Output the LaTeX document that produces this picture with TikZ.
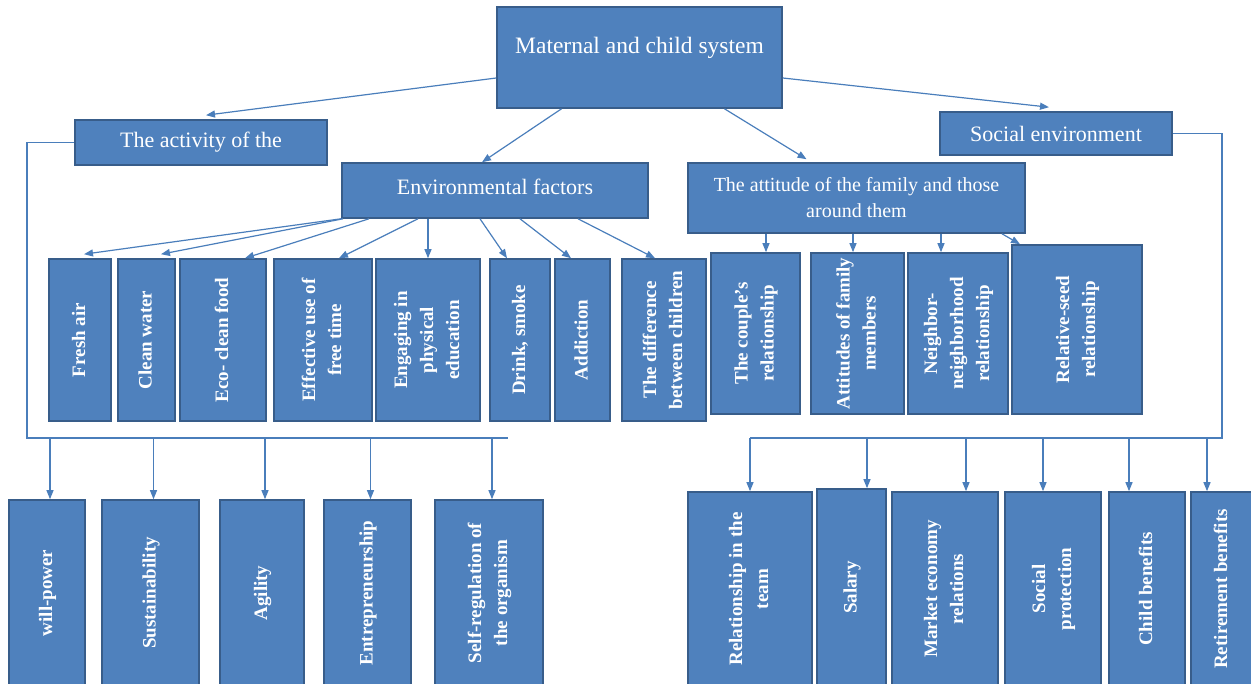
\documentclass[tikz,border=0pt]{standalone}
\usepackage{fontspec}
\setmainfont{Liberation Serif}
\usepackage{graphicx}
\usetikzlibrary{arrows.meta}
\usetikzlibrary{calc}

\definecolor{boxfill}{RGB}{79,129,189}
\definecolor{boxline}{RGB}{56,93,138}
\definecolor{linkcol}{RGB}{74,126,187}

\newcommand{\vtext}[1]{\rotatebox{90}{\begin{tabular}{@{}c@{}}#1\end{tabular}}}

\tikzset{
  box/.style={draw=boxline, fill=boxfill, line width=1.6pt, text=white, inner sep=0pt},
  hbox/.style={box, font=\fontsize{22}{26}\selectfont},
  vbox/.style={box, font=\bfseries\fontsize{19}{26}\selectfont},
  sz/.style 2 args={minimum width=#1pt, minimum height=#2pt},
  link/.style={draw=linkcol, line width=1.2pt},
  arr/.style={link, -{Triangle[length=9pt,width=7pt]}},
}

\begin{document}
\begin{tikzpicture}[x=1pt,y=1pt,yscale=-1,xscale=1]
\useasboundingbox (0,0) rectangle (1251,684);
\clip (0,0) rectangle (1251,684);

%Top boxes
\node[hbox, sz={285}{101}, font=\fontsize{23.5}{28}\selectfont] (main) at (639.5,57.5) {\raisebox{10pt}[\height][\depth]{Maternal and child system}};
\node[hbox, sz={252}{45}] (activity) at (201,142.5) {The activity of the};
\node[hbox, sz={232}{43}] (social) at (1056,133.5) {Social environment};
\node[hbox, sz={306}{55}] (env) at (495,190.5) {\raisebox{4pt}[\height][\depth]{Environmental factors}};
\node[hbox, sz={337}{70}, align=center, font=\fontsize{20}{26}\selectfont] (attitude) at (856.5,198) {The attitude of the family and those\\around them};

%Environmental factors row
\node[vbox, sz={62}{162}] (fresh) at (80,340) {\vtext{Fresh air}};
\node[vbox, sz={57}{162}] (clean) at (146.5,340) {\vtext{Clean water}};
\node[vbox, sz={86}{162}] (eco) at (223,340) {\vtext{Eco- clean food}};
\node[vbox, sz={98}{162}] (effective) at (323,340) {\vtext{Effective use of\\free time}};
\node[vbox, sz={104}{162}] (engaging) at (428,340) {\vtext{Engaging in\\physical\\education}};
\node[vbox, sz={60}{162}] (drink) at (520,340) {\vtext{Drink, smoke}};
\node[vbox, sz={55}{162}] (addiction) at (582.5,340) {\vtext{Addiction}};
\node[vbox, sz={84}{162}] (difference) at (664,340) {\vtext{The difference\\between children}};

%Attitude row
\node[vbox, sz={89}{161}] (couple) at (755.5,333.5) {\vtext{The couple's\\relationship}};
\node[vbox, sz={93}{161}] (members) at (857.5,333.5) {\vtext{Attitudes of family\\members}};
\node[vbox, sz={100}{161}] (neighbor) at (958,333.5) {\vtext{Neighbor-\\neighborhood\\relationship}};
\node[vbox, sz={130}{169}] (relseed) at (1077,329.5) {\vtext{Relative-seed\\relationship}};

%Activity row
\node[vbox, sz={76}{186}] (will) at (47,593) {\vtext{will-power}};
\node[vbox, sz={97}{186}] (sustain) at (150.5,593) {\vtext{Sustainability}};
\node[vbox, sz={84}{186}] (agility) at (262,593) {\vtext{Agility}};
\node[vbox, sz={87}{186}] (entre) at (367.5,593) {\vtext{Entrepreneurship}};
\node[vbox, sz={108}{186}] (selfreg) at (489,593) {\vtext{Self-regulation of\\the organism}};

%Social row
\node[vbox, sz={124}{194}] (team) at (750,589) {\vtext{Relationship in the\\team}};
\node[vbox, sz={69}{197}] (salary) at (851.5,587.5) {\vtext{Salary}};
\node[vbox, sz={106}{194}] (market) at (945,589) {\vtext{Market economy\\relations}};
\node[vbox, sz={96}{194}] (socprot) at (1053,589) {\vtext{Social\\protection}};
\node[vbox, sz={76}{194}] (childben) at (1147,589) {\vtext{Child benefits}};
\node[vbox, sz={62}{194}] (retire) at (1222,589) {\vtext{Retirement benefits}};

\coordinate (lbusL) at (27,438);
\coordinate (lbusR) at (508,438);
\coordinate (rbusR) at (1222,438);
\coordinate (rbusL) at (750,438);

%Straight Lines
\draw[arr] ($(main.west)+(0,20.5)$) -- ($(activity.north)+(5,-4)$);
\draw[arr] ($(main.south)+(-78,0)$) -- ($(env.north)+(-13,0)$);
\draw[arr] ($(main.south)+(85,0)$) -- ($(attitude.north)+(-50,-3)$);
\draw[arr] ($(main.east)+(0,20.5)$) -- ($(social.north)+(-7,-4)$);

%Straight Lines
\draw[arr] ($(env.south)+(-154,0)$) -- ($(fresh.north)+(4,-4)$);
\draw[arr] ($(env.south)+(-152,0)$) -- ($(clean.north)+(14.5,-4)$);
\draw[arr] ($(env.south)+(-126,0)$) -- ($(eco.north)+(22,0)$);
\draw[arr] ($(env.south)+(-77,0)$) -- ($(effective.north)+(16,0)$);
\draw[arr] ($(env.south)+(-67,0)$) -- (engaging.north);
\draw[arr] ($(env.south)+(-15,0)$) -- ($(drink.north)+(-13,0)$);
\draw[arr] ($(env.south)+(25,0)$) -- ($(addiction.north)+(-11.5,0)$);
\draw[arr] ($(env.south)+(83,0)$) -- ($(difference.north)+(-9,0)$);

%Straight Lines
\draw[arr] ($(attitude.south)+(-90.5,0)$) -- ($(couple.north)+(10.5,0)$);
\draw[arr] ($(attitude.south)+(-3.5,0)$) -- ($(members.north)+(-4.5,0)$);
\draw[arr] ($(attitude.south)+(84.5,0)$) -- ($(neighbor.north)+(-17,0)$);
\draw[arr] ($(attitude.south)+(145.5,0)$) -- ($(relseed.north)+(-57,0)$);

%Bus lines
\draw[link] (activity.west) -| (lbusL) -- (lbusR);
\draw[link] (social.east) -| (rbusR) -- (rbusL);

%Straight Lines
\draw[arr] ($(will.north |- lbusL)+(3,0)$) -- ($(will.north)+(3,0)$);
\draw[arr] ($(sustain.north |- lbusL)+(3,0)$) -- ($(sustain.north)+(3,0)$);
\draw[arr] ($(agility.north |- lbusL)+(3,0)$) -- ($(agility.north)+(3,0)$);
\draw[arr] ($(entre.north |- lbusL)+(3,0)$) -- ($(entre.north)+(3,0)$);
\draw[arr] ($(selfreg.north |- lbusL)+(3,0)$) -- ($(selfreg.north)+(3,0)$);

%Straight Lines
\draw[arr] (team.north |- rbusL) -- (team.north);
\draw[arr] ($(salary.north |- rbusL)+(15.5,0)$) -- ($(salary.north)+(15.5,0)$);
\draw[arr] ($(market.north |- rbusL)+(21,0)$) -- ($(market.north)+(21,0)$);
\draw[arr] ($(socprot.north |- rbusL)+(-10,0)$) -- ($(socprot.north)+(-10,0)$);
\draw[arr] ($(childben.north |- rbusL)+(-18,0)$) -- ($(childben.north)+(-18,0)$);
\draw[arr] ($(retire.north |- rbusL)+(-15,0)$) -- ($(retire.north)+(-15,0)$);

\end{tikzpicture}
\end{document}
